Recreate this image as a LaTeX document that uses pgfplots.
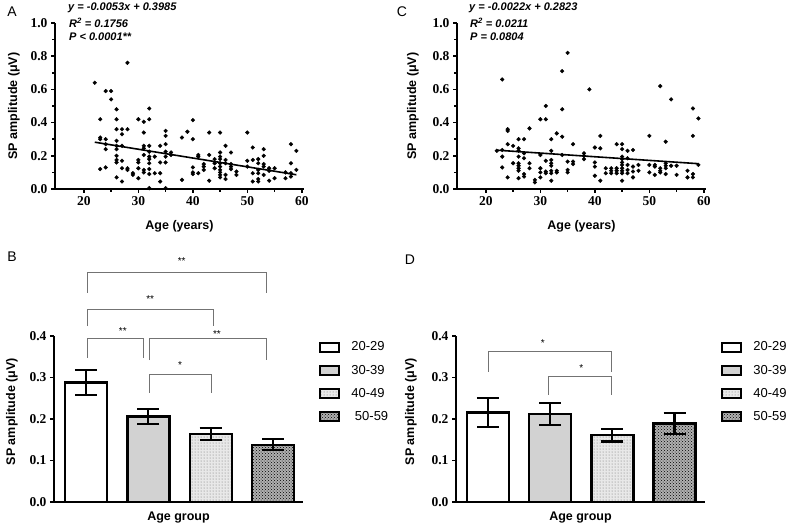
\documentclass[border=0pt]{standalone}
\usepackage{fontspec}
\setmainfont{Liberation Sans}
\newfontfamily\serifb{Liberation Serif}
\usepackage{pgfplots}
\pgfplotsset{compat=1.18}
\usetikzlibrary{patterns}
\newcommand{\tf}{\serifb\bfseries\fontsize{13.5}{15}\selectfont}

\pgfplotstableread{
x y
22 0.64
23 0.42
23 0.31
23 0.30
23 0.12
24 0.59
24 0.30
24 0.27
24 0.24
24 0.13
25 0.59
25 0.54
26 0.48
26 0.42
26 0.36
26 0.29
26 0.26
26 0.24
26 0.20
26 0.175
26 0.16
26 0.07
27 0.36
27 0.33
27 0.26
27 0.17
27 0.125
27 0.045
28 0.76
28 0.36
28 0.125
28 0.115
29 0.095
29 0.085
30 0.42
30 0.175
30 0.16
30 0.125
30 0.065
31 0.405
31 0.34
31 0.26
31 0.245
31 0.205
31 0.115
31 0.10
32 0.485
32 0.42
32 0.26
32 0.225
32 0.195
32 0.18
32 0.155
32 0.12
32 0.09
32 0.005
33 0.195
33 0.095
34 0.26
34 0.16
34 0.095
34 0.045
35 0.35
35 0.32
35 0.27
35 0.225
35 0.195
35 0.16
35 0.005
36 0.22
36 0.205
38 0.31
38 0.055
39 0.345
40 0.415
40 0.30
40 0.13
40 0.10
40 0.09
41 0.205
41 0.195
41 0.095
42 0.15
42 0.135
42 0.115
43 0.34
43 0.205
43 0.05
44 0.18
44 0.155
44 0.125
45 0.34
45 0.22
45 0.195
45 0.18
45 0.155
45 0.135
45 0.115
45 0.10
45 0.085
45 0.07
46 0.26
46 0.175
46 0.155
46 0.085
46 0.06
47 0.22
47 0.15
47 0.135
47 0.12
48 0.105
48 0.085
50 0.34
50 0.17
50 0.135
51 0.25
51 0.175
51 0.095
51 0.045
52 0.18
52 0.155
52 0.115
52 0.095
52 0.06
52 0.045
53 0.24
53 0.20
53 0.15
53 0.135
53 0.085
54 0.125
54 0.11
54 0.05
55 0.125
55 0.065
57 0.10
57 0.065
58 0.27
58 0.155
58 0.095
58 0.075
59 0.23
59 0.115
}\dataA

\pgfplotstableread{
x y
22 0.23
23 0.66
23 0.235
23 0.195
23 0.13
24 0.36
24 0.35
24 0.27
24 0.07
25 0.26
25 0.155
26 0.30
26 0.245
26 0.23
26 0.195
26 0.155
26 0.14
26 0.125
26 0.11
26 0.065
27 0.30
27 0.215
27 0.185
27 0.09
27 0.075
28 0.365
28 0.155
28 0.125
29 0.055
29 0.04
30 0.42
30 0.205
30 0.125
30 0.10
30 0.07
31 0.50
31 0.42
31 0.17
31 0.105
31 0.095
32 0.30
32 0.23
32 0.175
32 0.155
32 0.14
32 0.11
32 0.095
32 0.05
33 0.335
33 0.11
33 0.10
34 0.71
34 0.48
34 0.315
34 0.205
35 0.82
35 0.165
35 0.115
35 0.10
36 0.27
36 0.165
36 0.15
38 0.215
38 0.20
38 0.18
39 0.60
40 0.25
40 0.16
40 0.135
40 0.08
41 0.32
41 0.245
41 0.05
42 0.125
42 0.095
43 0.125
43 0.11
43 0.095
44 0.27
44 0.125
44 0.11
44 0.095
45 0.27
45 0.24
45 0.195
45 0.18
45 0.16
45 0.145
45 0.125
45 0.11
45 0.095
45 0.05
46 0.23
46 0.185
46 0.145
46 0.115
46 0.095
47 0.235
47 0.135
47 0.105
47 0.07
48 0.145
48 0.11
50 0.32
50 0.145
50 0.10
51 0.145
51 0.135
51 0.085
52 0.62
52 0.125
52 0.11
52 0.10
53 0.285
53 0.155
53 0.14
53 0.125
53 0.09
54 0.54
54 0.14
55 0.14
55 0.085
57 0.11
57 0.07
58 0.485
58 0.32
58 0.09
58 0.07
59 0.425
59 0.145
}\dataC

\pgfplotsset{
  panel/.style={
    scale only axis, width=249pt, height=166pt, anchor=south west,
    axis x line*=bottom, axis y line*=left,
    axis line style={line width=1.8pt, black},
    tick align=outside, major tick length=4pt, minor tick length=3pt,
    tick style={line width=1.5pt, black},
    every tick label/.append style={font=\tf},
    xticklabel={\tf\pgfmathprintnumber[assume math mode=true]{\tick}},
    yticklabel={\tf\pgfmathprintnumber[assume math mode=true,fixed,fixed zerofill,precision=1]{\tick}},
    every axis label/.append style={font=\bfseries\fontsize{12.5}{14}\selectfont},
    clip=false,
  },
  scat/.style={
    xmin=14.7, xmax=60.4, ymin=0, ymax=1,
    xtick={20,30,40,50,60}, minor xtick={25,35,45,55},
    ytick={0,0.2,0.4,0.6,0.8,1.0}, minor ytick={0.1,0.3,0.5,0.7,0.9},
    xlabel={Age (years)}, ylabel={SP amplitude (μV)},
    xlabel style={at={(axis description cs:0.5,-0.223)}, anchor=center},
  },
  bars/.style={
    xmin=-0.513, xmax=3.48, ymin=0, ymax=0.4,
    xtick=\empty, ytick={0,0.1,0.2,0.3,0.4},
    xlabel={Age group}, ylabel={SP amplitude (μV)},
    xlabel style={at={(axis description cs:0.5,-0.096)}, anchor=center},
    legend image code/.code={\draw[#1, line width=2.2pt] (0pt,-4.5pt) rectangle (19pt,4.5pt);},
    legend style={draw=none, fill=none, anchor=north west,
      font=\fontsize{13}{15}\selectfont, row sep=8.5pt,
      /tikz/every odd column/.append style={column sep=9pt}},
    legend cell align=left,
  },
  bb/.style={ybar, bar width=42pt, bar shift=0pt, draw=black, line width=2.4pt,
    error bars/y dir=both, error bars/y explicit,
    error bars/error bar style={line width=2.2pt, black},
    error bars/error mark options={rotate=90, mark size=11pt, line width=2.2pt, black}},
  f1/.style={fill=white},
  f2/.style={fill=gray!35},
  f3/.style={fill=gray!18, postaction={pattern=dots, pattern color=gray!85!black}},
  f4/.style={fill=gray!62, postaction={pattern=crosshatch dots, pattern color=black}},
}
\tikzset{brk/.style={draw=gray!90!black, line width=0.9pt},
  st/.style={font=\fontsize{10}{12}\selectfont, inner sep=0pt, yshift=-2.5pt},
  ann/.style={anchor=west, inner sep=0pt, font=\bfseries\itshape\fontsize{11}{13}\selectfont},
  letter/.style={inner sep=0pt, font=\fontsize{14}{16}\selectfont}}

\begin{document}
\begin{tikzpicture}
\useasboundingbox (0pt,0pt) rectangle (789pt,530pt);

% Panel A
\begin{axis}[panel, scat, at={(55pt,341pt)},
  ylabel style={at={(axis description cs:-0.165,0.5)}, anchor=center}]
\addplot[only marks, mark=*, mark size=1.9pt, black] table[x=x,y=y] {\dataA};
\addplot[black, line width=1.6pt] coordinates {(22,0.2819) (59,0.0858)};
\end{axis}

% Panel C
\begin{axis}[panel, scat, at={(457pt,341pt)},
  ylabel style={at={(axis description cs:-0.177,0.5)}, anchor=center}]
\addplot[only marks, mark=*, mark size=1.9pt, black] table[x=x,y=y] {\dataC};
\addplot[black, line width=1.6pt] coordinates {(22,0.2339) (59,0.1525)};
\end{axis}

% Panel B
\begin{axis}[panel, bars, at={(54pt,28pt)},
  ylabel style={at={(axis description cs:-0.169,0.544)}, anchor=center},
  legend style={at={(axis description cs:1.052,0.99)}}]
\addplot[bb, f1] coordinates {(0,0.288) +- (0,0.030)};
\addlegendentry{20-29}
\addplot[bb, f2] coordinates {(1,0.206) +- (0,0.018)};
\addlegendentry{30-39}
\addplot[bb, f3] coordinates {(2,0.164) +- (0,0.015)};
\addlegendentry{40-49}
\addplot[bb, f4] coordinates {(3,0.138) +- (0,0.013)};
\addlegendentry{\ 50-59}
\draw[brk] (axis cs:0.03,0.347) -- (axis cs:0.03,0.395) -- (axis cs:0.915,0.395) -- (axis cs:0.915,0.347);
\draw[brk] (axis cs:1.01,0.342) -- (axis cs:1.01,0.395) -- (axis cs:2.90,0.395) -- (axis cs:2.90,0.342);
\draw[brk] (axis cs:1.01,0.263) -- (axis cs:1.01,0.308) -- (axis cs:2.005,0.308) -- (axis cs:2.005,0.263);
\draw[brk] (axis cs:0.03,0.424) -- (axis cs:0.03,0.465) -- (axis cs:2.04,0.465) -- (axis cs:2.04,0.424);
\draw[brk] (axis cs:0.03,0.504) -- (axis cs:0.03,0.552) -- (axis cs:2.90,0.552) -- (axis cs:2.90,0.504);
\node[st] at (axis cs:0.59,0.417) {**};
\node[st] at (axis cs:2.10,0.41) {**};
\node[st] at (axis cs:1.51,0.336) {*};
\node[st] at (axis cs:1.03,0.494) {**};
\node[st] at (axis cs:1.535,0.586) {**};
\end{axis}

% Panel D
\begin{axis}[panel, bars, at={(456pt,28pt)}, xmin=-0.514, xmax=3.49,
  ylabel style={at={(axis description cs:-0.181,0.544)}, anchor=center},
  legend style={at={(axis description cs:1.052,0.99)}}]
\addplot[bb, f1] coordinates {(0,0.216) +- (0,0.035)};
\addlegendentry{20-29}
\addplot[bb, f2] coordinates {(1,0.212) +- (0,0.026)};
\addlegendentry{30-39}
\addplot[bb, f3] coordinates {(2,0.161) +- (0,0.015)};
\addlegendentry{40-49}
\addplot[bb, f4] coordinates {(3,0.189) +- (0,0.025)};
\addlegendentry{50-59}
\draw[brk] (axis cs:0,0.314) -- (axis cs:0,0.362) -- (axis cs:1.99,0.362) -- (axis cs:1.99,0.314);
\draw[brk] (axis cs:0.98,0.258) -- (axis cs:0.98,0.302) -- (axis cs:1.99,0.302) -- (axis cs:1.99,0.258);
\node[st] at (axis cs:0.88,0.39) {*};
\node[st] at (axis cs:1.50,0.328) {*};
\end{axis}

% annotations
\node[ann] at (68pt,522pt) {y = -0.0053x + 0.3985};
\node[ann] at (69pt,507pt) {R\textsuperscript{2} = 0.1756};
\node[ann] at (69pt,493pt) {P < 0.0001**};
\node[ann] at (469pt,522pt) {y = -0.0022x + 0.2823};
\node[ann] at (470pt,507pt) {R\textsuperscript{2} = 0.0211};
\node[ann] at (470pt,493pt) {P = 0.0804};
\node[letter] at (12pt,518pt) {A};
\node[letter] at (402pt,518pt) {C};
\node[letter] at (12pt,273pt) {B};
\node[letter] at (410pt,270pt) {D};
\end{tikzpicture}
\end{document}
